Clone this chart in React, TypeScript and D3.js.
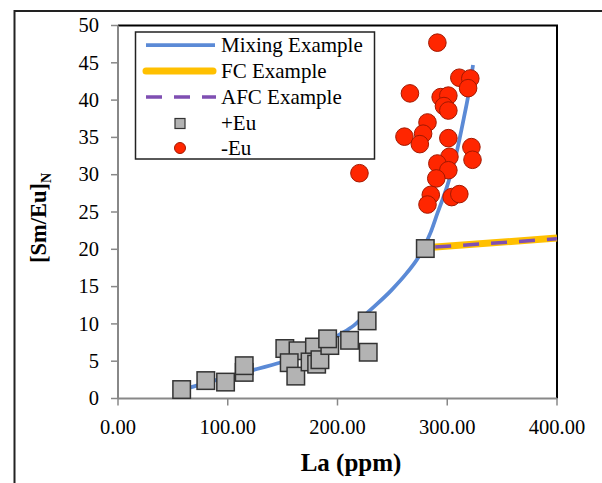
import React from 'react';
import * as d3 from 'd3';

// +Eu samples (La ppm, [Sm/Eu]N)
const plusEuLa = [58, 80, 98, 115, 115, 152, 164, 156, 162, 179, 175, 181, 184, 193, 191, 211, 227, 228, 280];
const plusEuSmEu = [1.2, 2.4, 2.2, 3.5, 4.4, 6.7, 6.4, 4.8, 3.0, 6.9, 4.9, 4.6, 5.2, 7.1, 8.0, 7.8, 10.4, 6.2, 20.1];

// -Eu samples
const minusEuLa = [291, 266, 311, 321, 319, 294, 301, 297, 301, 282, 278, 261, 275, 301, 322, 323, 302, 291, 301, 290, 220, 285, 304, 311, 282];
const minusEuSmEu = [47.7, 40.9, 43.0, 42.9, 41.6, 40.4, 40.6, 39.2, 38.6, 37.0, 35.5, 35.1, 34.1, 34.9, 33.7, 32.0, 32.4, 31.5, 30.6, 29.5, 30.2, 27.3, 27.0, 27.4, 26.0];

// model curves
const mixLa = [62, 80, 100, 115, 150, 175, 200, 215, 228, 249, 263, 274, 285, 291, 300, 309, 315, 319, 323.5];
const mixSmEu = [1.3, 2.1, 2.9, 3.5, 4.9, 6.0, 8.4, 9.8, 11.6, 14.5, 16.8, 19.0, 22.3, 24.8, 28.5, 33.3, 37.5, 40.5, 44.7];
const fcLa = [280, 400];
const fcSmEu = [20.2, 21.5];
const afcLa = [289, 400];
const afcSmEu = [20.3, 21.4];

const xTicks = [0, 100, 200, 300, 400];
const yTicks = [0, 5, 10, 15, 20, 25, 30, 35, 40, 45, 50];

const legendLabels = ['Mixing Example', 'FC Example', 'AFC Example', '+Eu', '-Eu'];

const serif = 'Liberation Serif, Times New Roman, serif';

export default function App() {
  const x = d3.scaleLinear().domain([0, 400]).range([118, 557]);
  const y = d3.scaleLinear().domain([0, 50]).range([398.5, 25.5]);

  const line = d3.line<[number, number]>()
    .x(d => x(d[0]))
    .y(d => y(d[1]));
  const mixLine = d3.line<[number, number]>()
    .curve(d3.curveMonotoneX)
    .x(d => x(d[0]))
    .y(d => y(d[1]));

  const mix = mixLa.map((v, i) => [v, mixSmEu[i]] as [number, number]);
  const fc = fcLa.map((v, i) => [v, fcSmEu[i]] as [number, number]);
  const afc = afcLa.map((v, i) => [v, afcSmEu[i]] as [number, number]);

  const sq = 17.5;
  const legRows = [45, 71, 97, 123.5, 148];

  return (
    <svg width={602} height={483} style={{ position: 'absolute', left: 0, top: 0, background: '#fff', fontFamily: serif }}>
      {/* outer frame */}
      <path d="M14.5,483 L14.5,11 L602,11" fill="none" stroke="#222" strokeWidth={2} />

      {/* plot border top/right */}
      <path d={`M${x(0)},${y(50)} L${x(400)},${y(50)} L${x(400)},${y(0)}`} fill="none" stroke="#000" strokeWidth={2} />

      {/* axes */}
      <line x1={x(0)} x2={x(400)} y1={y(0)} y2={y(0)} stroke="#888" strokeWidth={2} />
      <line x1={x(0)} x2={x(0)} y1={y(0)} y2={y(50)} stroke="#888" strokeWidth={2} />
      {yTicks.map(t => (
        <g key={'y' + t}>
          <line x1={x(0) - 7} x2={x(0)} y1={y(t)} y2={y(t)} stroke="#888" strokeWidth={1.5} />
          <text x={99} y={y(t)} dy="0.33em" textAnchor="end" fontSize={20.5} fill="#000">{t}</text>
        </g>
      ))}
      {xTicks.map(t => (
        <g key={'x' + t}>
          <line x1={x(t)} x2={x(t)} y1={y(0)} y2={y(0) + 7} stroke="#888" strokeWidth={1.5} />
          <text x={x(t)} y={427} dy="0.33em" textAnchor="middle" fontSize={20.5} fill="#000">{t.toFixed(2)}</text>
        </g>
      ))}

      {/* axis titles */}
      <text x={351} y={471} textAnchor="middle" fontSize={25} fontWeight="bold">La (ppm)</text>
      <text transform={`translate(46,218) rotate(-90)`} textAnchor="middle" fontSize={22.5} fontWeight="bold">
        [Sm/Eu]<tspan fontSize={14} dy={5}>N</tspan>
      </text>

      {/* model lines */}
      <path d={mixLine(mix) || ''} fill="none" stroke="#5B8AD6" strokeWidth={3.75} />
      <path d={line(fc) || ''} fill="none" stroke="#FFC000" strokeWidth={7} />
      <path d={line(afc) || ''} fill="none" stroke="#7F4FB2" strokeWidth={3.5} strokeDasharray="16,12" />

      {/* +Eu squares */}
      {plusEuLa.map((v, i) => (
        <rect key={'s' + i} x={x(v) - sq / 2} y={y(plusEuSmEu[i]) - sq / 2} width={sq} height={sq}
          fill="#B3B3B3" stroke="#333" strokeWidth={1.5} />
      ))}

      {/* -Eu circles */}
      {minusEuLa.map((v, i) => (
        <circle key={'c' + i} cx={x(v)} cy={y(minusEuSmEu[i])} r={8.8}
          fill="#FF2600" stroke="#A31800" strokeWidth={1} />
      ))}

      {/* legend */}
      <rect x={135.5} y={32} width={239} height={127} fill="#fff" stroke="#222" strokeWidth={1.5} />
      <line x1={146} x2={215} y1={legRows[0]} y2={legRows[0]} stroke="#5B8AD6" strokeWidth={3.75} />
      <line x1={146} x2={213} y1={legRows[1]} y2={legRows[1]} stroke="#FFC000" strokeWidth={7} strokeLinecap="round" />
      <line x1={146} x2={216} y1={legRows[2]} y2={legRows[2]} stroke="#7F4FB2" strokeWidth={3.5} strokeDasharray="16,12" />
      <rect x={175} y={legRows[3] - 5} width={10} height={10} fill="#B3B3B3" stroke="#333" strokeWidth={1.2} />
      <circle cx={180} cy={legRows[4]} r={5.5} fill="#FF2600" stroke="#A31800" strokeWidth={1} />
      {legendLabels.map((l, i) => (
        <text key={l} x={221} y={legRows[i]} dy="0.33em" fontSize={21} fill="#000">{l}</text>
      ))}
    </svg>
  );
}
